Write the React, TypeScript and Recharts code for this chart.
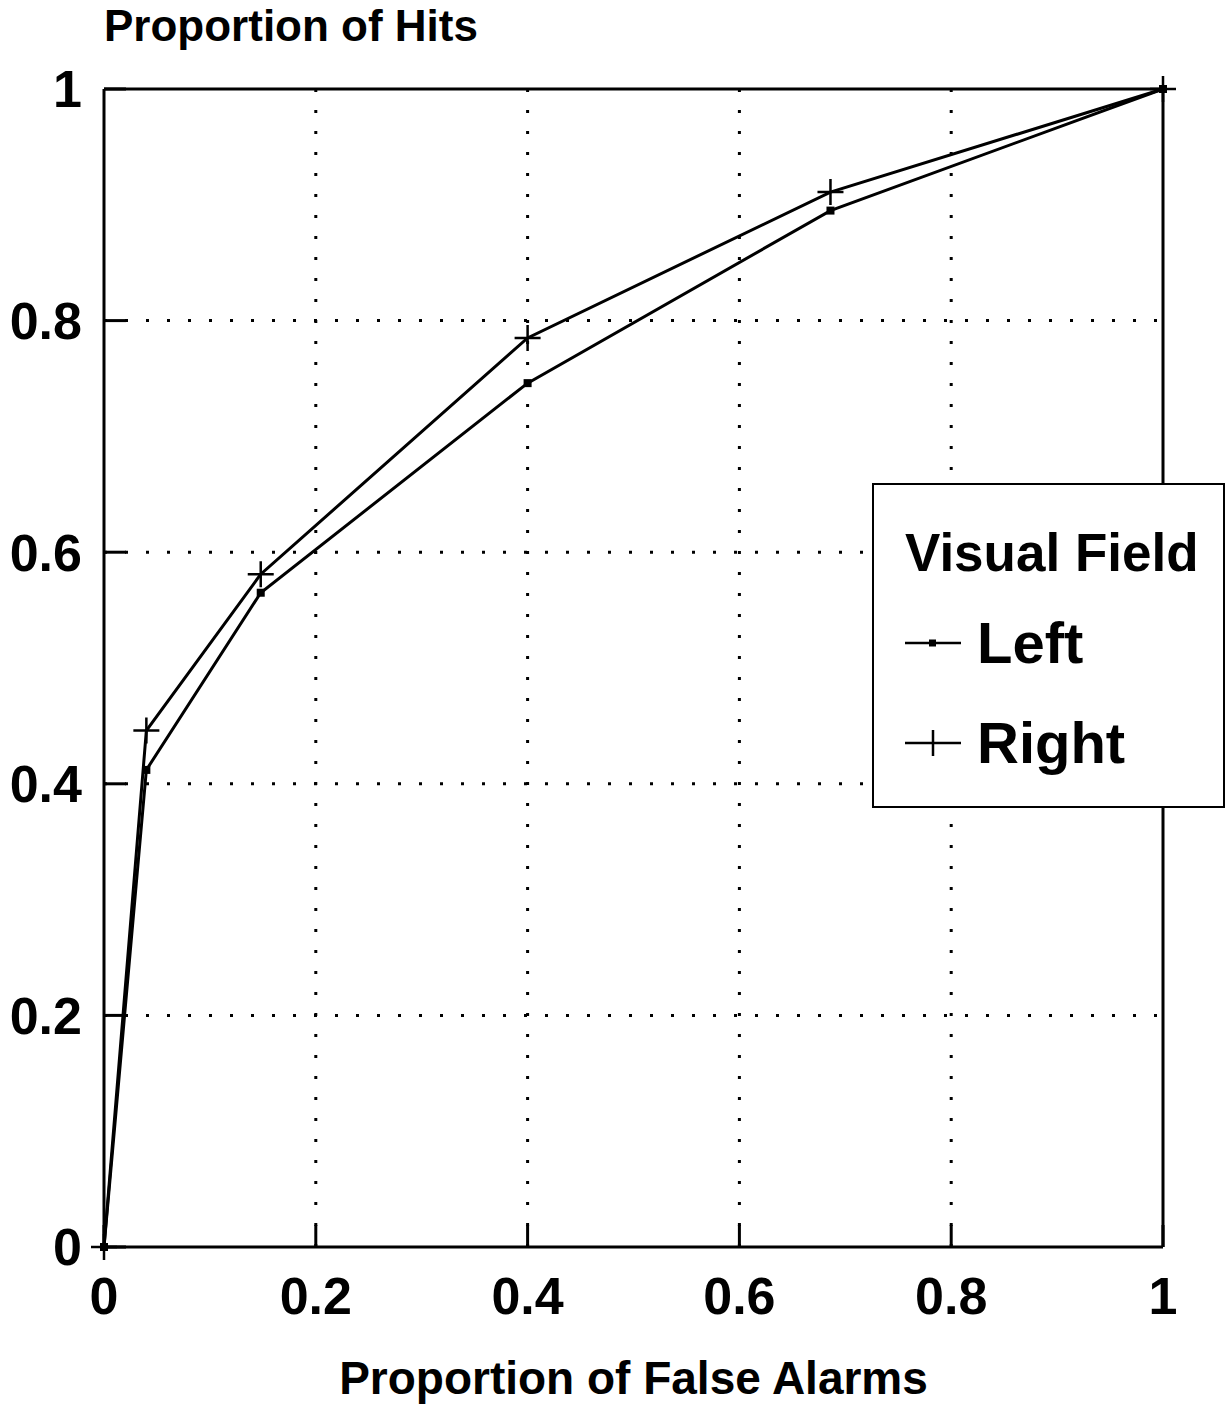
import React from "react";
import {
  LineChart,
  Line,
  XAxis,
  YAxis,
  CartesianGrid,
  Legend,
} from "recharts";

// Proportion of false alarms (x) and hits (y)
const faLeft = [0, 0.04, 0.148, 0.4, 0.686, 1];
const hitsLeft = [0, 0.412, 0.565, 0.746, 0.895, 1];
const faRight = [0, 0.04, 0.148, 0.4, 0.686, 1];
const hitsRight = [0, 0.446, 0.581, 0.785, 0.911, 1];

const axisTicks = [0, 0.2, 0.4, 0.6, 0.8, 1];
const gridTicks = [0.2, 0.4, 0.6, 0.8];
const legendTitle = "Visual Field";
const seriesNames = ["Left", "Right"];

const leftData = faLeft.map((fa, i) => ({ fa, hits: hitsLeft[i] }));
const rightData = faRight.map((fa, i) => ({ fa, hits: hitsRight[i] }));

const FONT = '"Liberation Sans", Arial, Helvetica, sans-serif';
const fmt = (v: number) => String(v);
const noLabel = (p: any) => <g key={`nl-${p.index}`} />;

const SquareDot = (props: any) => {
  const { cx, cy, index } = props;
  return <rect key={`sq-${index}`} x={cx - 4} y={cy - 4} width={8} height={8} fill="#000" />;
};

const PlusDot = (props: any) => {
  const { cx, cy, index } = props;
  return (
    <path
      key={`pl-${index}`}
      d={`M${cx - 13},${cy}H${cx + 13}M${cx},${cy - 13}V${cy + 13}`}
      stroke="#000"
      strokeWidth={2.5}
      fill="none"
    />
  );
};

const renderLegend = (props: any) => {
  const { payload } = props;
  return (
    <div
      style={{
        position: "relative",
        boxSizing: "border-box",
        width: 353,
        height: 325,
        border: "2px solid #000",
        background: "#fff",
        fontFamily: FONT,
        fontWeight: 700,
        color: "#000",
      }}
    >
      <div style={{ position: "absolute", left: 31, top: 38, fontSize: 53, lineHeight: "60px" }}>
        {legendTitle}
      </div>
      {(payload || []).map((entry: any, i: number) => (
        <div
          key={entry.value}
          style={{ position: "absolute", left: 29, top: 128 + i * 100, height: 60, display: "flex", alignItems: "center" }}
        >
          <svg width={60} height={30} style={{ marginRight: 14 }}>
            <line x1={2} y1={15} x2={58} y2={15} stroke="#000" strokeWidth={2.5} />
            {entry.value === seriesNames[0] ? (
              <rect x={26} y={11.5} width={7} height={7} fill="#000" />
            ) : (
              <line x1={30} y1={2} x2={30} y2={28} stroke="#000" strokeWidth={2.5} />
            )}
          </svg>
          <span style={{ fontSize: 58, lineHeight: "60px" }}>{entry.value}</span>
        </div>
      ))}
    </div>
  );
};

export default function App() {
  return (
    <div style={{ position: "absolute", left: 0, top: 0, background: "#fff" }}>
      <LineChart width={1225} height={1408} margin={{ top: 88, right: 61, bottom: 0, left: 0 }}>
        <text x={104} y={41} fontFamily={FONT} fontWeight={700} fontSize={44} fill="#000">
          Proportion of Hits
        </text>
        <CartesianGrid
          stroke="#000"
          strokeWidth={3}
          strokeDasharray="3 18"
          horizontalValues={gridTicks}
          verticalValues={gridTicks}
        />
        <XAxis
          dataKey="fa"
          type="number"
          domain={[0, 1]}
          ticks={axisTicks}
          tickFormatter={fmt}
          height={161}
          axisLine={{ stroke: "#000", strokeWidth: 3 }}
          tickLine={{ stroke: "#000", strokeWidth: 3 }}
          tickSize={-22}
          tickMargin={52}
          tick={{ fill: "#000", fontSize: 52, fontWeight: 700, fontFamily: FONT }}
          label={{
            value: "Proportion of False Alarms",
            position: "insideBottom",
            offset: 14,
            fill: "#000",
            fontSize: 46,
            fontWeight: 700,
            fontFamily: FONT,
          }}
        />
        <XAxis
          xAxisId="top"
          orientation="top"
          dataKey="fa"
          type="number"
          domain={[0, 1]}
          ticks={axisTicks}
          height={1}
          axisLine={{ stroke: "#000", strokeWidth: 3 }}
          tickLine={{ stroke: "#000", strokeWidth: 3 }}
          tickSize={-22}
          tick={noLabel}
        />
        <YAxis
          dataKey="hits"
          type="number"
          domain={[0, 1]}
          ticks={axisTicks}
          tickFormatter={fmt}
          width={104}
          axisLine={{ stroke: "#000", strokeWidth: 3 }}
          tickLine={{ stroke: "#000", strokeWidth: 3 }}
          tickSize={-22}
          tickMargin={44}
          tick={{ fill: "#000", fontSize: 52, fontWeight: 700, fontFamily: FONT }}
        />
        <YAxis
          yAxisId="right"
          orientation="right"
          dataKey="hits"
          type="number"
          domain={[0, 1]}
          ticks={axisTicks}
          width={1}
          axisLine={{ stroke: "#000", strokeWidth: 3 }}
          tickLine={{ stroke: "#000", strokeWidth: 3 }}
          tickSize={-22}
          tick={noLabel}
        />
        <Legend
          layout="vertical"
          align="center"
          verticalAlign="middle"
          content={renderLegend}
          wrapperStyle={{ position: "absolute", left: 872, top: 483, width: 353, height: 325 }}
        />
        <Line
          name={seriesNames[0]}
          data={leftData}
          dataKey="hits"
          type="linear"
          stroke="#000"
          strokeWidth={3}
          dot={SquareDot}
          activeDot={false}
          isAnimationActive={false}
        />
        <Line
          name={seriesNames[1]}
          data={rightData}
          dataKey="hits"
          type="linear"
          stroke="#000"
          strokeWidth={3}
          dot={PlusDot}
          activeDot={false}
          isAnimationActive={false}
        />
      </LineChart>
    </div>
  );
}
